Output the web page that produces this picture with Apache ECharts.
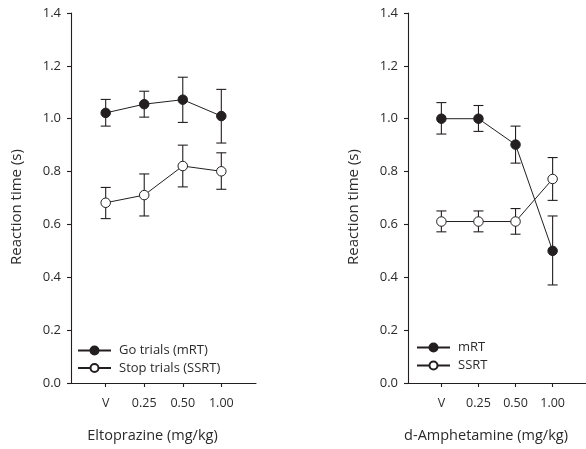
<!DOCTYPE html>
<html>
<head>
<meta charset="utf-8">
<script src="https://cdn.jsdelivr.net/npm/echarts@6/dist/echarts.min.js"></script>
<style>
  html, body { margin: 0; padding: 0; background: #fff; }
  #chart { width: 586px; height: 449px; }
</style>
</head>
<body>
<div id="chart"></div>
<script>
// Dose levels (x positions 1..4) and their tick labels
const dosePositions = [1, 2, 3, 4];
const doseLabels = ['V', '0.25', '0.50', '1.00'];

// Eltoprazine panel
const eltoGoMean = [1.022, 1.055, 1.072, 1.010];
const eltoGoLow  = [0.972, 1.006, 0.986, 0.908];
const eltoGoHigh = [1.073, 1.104, 1.157, 1.111];
const eltoStopMean = [0.682, 0.711, 0.821, 0.801];
const eltoStopLow  = [0.622, 0.632, 0.742, 0.733];
const eltoStopHigh = [0.740, 0.791, 0.900, 0.871];

// d-Amphetamine panel
const amphMrtMean = [1.000, 1.000, 0.902, 0.500];
const amphMrtLow  = [0.942, 0.952, 0.832, 0.371];
const amphMrtHigh = [1.061, 1.050, 0.972, 0.632];
const amphSsrtMean = [0.611, 0.611, 0.611, 0.772];
const amphSsrtLow  = [0.572, 0.572, 0.563, 0.691];
const amphSsrtHigh = [0.651, 0.651, 0.660, 0.853];

const INK = '#231f20';
const TEXT = '#2b2b2b';
const FONT = '"Open Sans", "Noto Sans", sans-serif';

function points(means) {
  return dosePositions.map((x, i) => [x, means[i]]);
}
function bars(lows, highs) {
  return dosePositions.map((x, i) => [x, lows[i], highs[i]]);
}

// Error bar: vertical whisker with horizontal caps
function renderErrorBar(params, api) {
  const x = api.value(0);
  const lo = api.coord([x, api.value(1)]);
  const hi = api.coord([x, api.value(2)]);
  const half = 5;
  const style = { stroke: INK, lineWidth: 1.1 };
  return {
    type: 'group',
    children: [
      { type: 'line', shape: { x1: lo[0], y1: lo[1], x2: hi[0], y2: hi[1] }, style },
      { type: 'line', shape: { x1: lo[0] - half, y1: lo[1], x2: lo[0] + half, y2: lo[1] }, style },
      { type: 'line', shape: { x1: hi[0] - half, y1: hi[1], x2: hi[0] + half, y2: hi[1] }, style }
    ]
  };
}

function xAxisFor(gridIndex, name) {
  return {
    gridIndex, type: 'value', min: 0.1, max: 4.9,
    name, nameLocation: 'middle', nameGap: 45,
    nameTextStyle: { fontFamily: FONT, fontSize: 14.5, color: TEXT, padding: [0, 22, 0, 0] },
    axisLine: { show: true, lineStyle: { color: INK, width: 1.1 } },
    axisTick: { show: true, length: 4, customValues: dosePositions, lineStyle: { color: INK, width: 1.1 } },
    axisLabel: {
      customValues: dosePositions, margin: 14,
      fontFamily: FONT, fontSize: 12.5, color: TEXT,
      formatter: v => doseLabels[dosePositions.indexOf(Math.round(v))] || ''
    },
    splitLine: { show: false }
  };
}

function yAxisFor(gridIndex) {
  return {
    gridIndex, type: 'value', min: 0, max: 1.4, interval: 0.2,
    name: 'Reaction time (s)', nameLocation: 'middle', nameGap: 47,
    nameTextStyle: { fontFamily: FONT, fontSize: 15, color: TEXT, padding: [0, 18, 0, 0] },
    axisLine: { show: true, lineStyle: { color: INK, width: 1.1 } },
    axisTick: { show: true, length: 4, lineStyle: { color: INK, width: 1.1 } },
    axisLabel: { margin: 10, fontFamily: FONT, fontSize: 13, color: TEXT, formatter: v => v.toFixed(1) },
    splitLine: { show: false }
  };
}

function lineSeries(name, idx, data, filled) {
  return {
    name, type: 'line', xAxisIndex: idx, yAxisIndex: idx, data,
    symbol: 'circle', symbolSize: 9.5,
    lineStyle: { color: INK, width: 1 },
    itemStyle: { color: filled ? INK : '#fff', borderColor: INK, borderWidth: 1 },
    z: 3, animation: false
  };
}

function errorSeries(idx, data) {
  return {
    type: 'custom', xAxisIndex: idx, yAxisIndex: idx, data,
    renderItem: renderErrorBar, z: 2, animation: false, silent: true,
    encode: { x: 0, y: [1, 2] }
  };
}

const legendText = { fontFamily: FONT, fontSize: 13, color: TEXT, padding: [0, 0, 0, 3] };

const option = {
  animation: false,
  backgroundColor: '#fff',
  grid: [
    { left: 71, top: 13, width: 185, height: 370 },
    { left: 408, top: 13, width: 185, height: 370 }
  ],
  xAxis: [xAxisFor(0, 'Eltoprazine (mg/kg)'), xAxisFor(1, 'd-Amphetamine (mg/kg)')],
  yAxis: [yAxisFor(0), yAxisFor(1)],
  legend: [
    {
      data: ['Go trials (mRT)', 'Stop trials (SSRT)'],
      orient: 'vertical', left: 77, top: 344, padding: 0,
      itemWidth: 33, itemHeight: 10, itemGap: 4.5,
      textStyle: legendText
    },
    {
      data: ['mRT', 'SSRT'],
      orient: 'vertical', left: 416, top: 341, padding: 0,
      itemWidth: 33, itemHeight: 10, itemGap: 5,
      textStyle: legendText
    }
  ],
  series: [
    errorSeries(0, bars(eltoGoLow, eltoGoHigh)),
    errorSeries(0, bars(eltoStopLow, eltoStopHigh)),
    lineSeries('Go trials (mRT)', 0, points(eltoGoMean), true),
    lineSeries('Stop trials (SSRT)', 0, points(eltoStopMean), false),
    errorSeries(1, bars(amphMrtLow, amphMrtHigh)),
    errorSeries(1, bars(amphSsrtLow, amphSsrtHigh)),
    lineSeries('mRT', 1, points(amphMrtMean), true),
    lineSeries('SSRT', 1, points(amphSsrtMean), false)
  ]
};

const chart = echarts.init(document.getElementById('chart'), null, { renderer: 'canvas' });
chart.setOption(option);
</script>
</body>
</html>
